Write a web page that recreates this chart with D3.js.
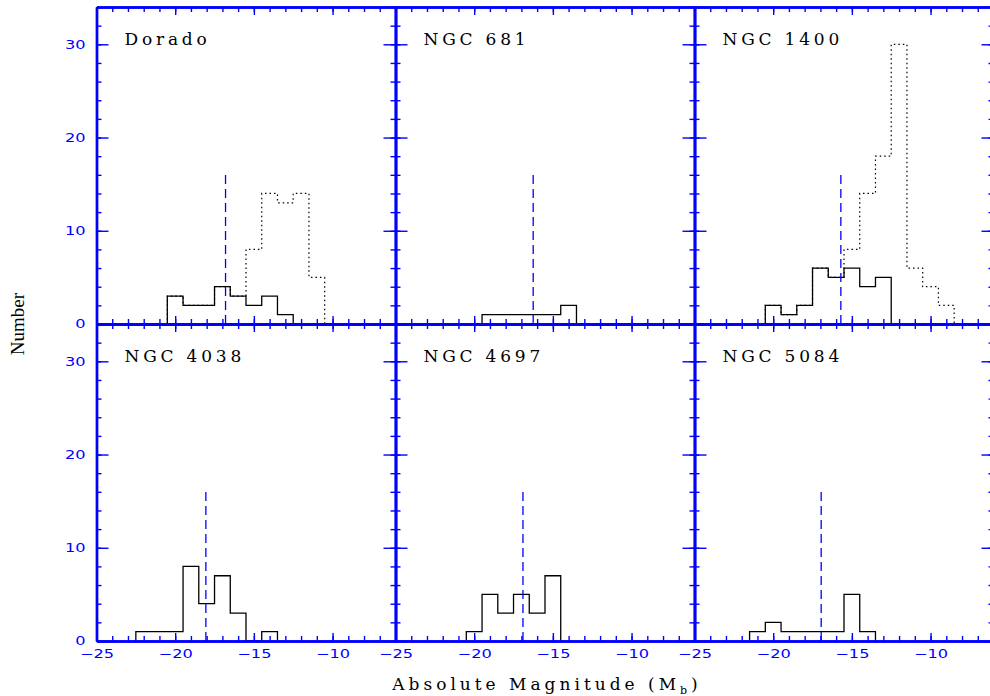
<!DOCTYPE html>
<html>
<head>
<meta charset="utf-8">
<script src="https://cdn.jsdelivr.net/npm/d3@7"></script>
<style>
  html, body { margin: 0; padding: 0; background: #fff; }
  svg { display: block; }
  .tick text { font-family: "DejaVu Sans", sans-serif; font-size: 12px; fill: #0000ff; }
  .panel-name { font-family: "DejaVu Serif", serif; font-size: 17px; fill: #000; letter-spacing: 3.8px; }
  .axis-title { font-family: "DejaVu Serif", serif; font-size: 17px; fill: #000; letter-spacing: 4px; }
  .y-title { font-family: "Liberation Serif", serif; font-size: 19px; fill: #000; }
</style>
</head>
<body>
<svg id="chart" width="990" height="696"></svg>
<script>
// ── Data ──────────────────────────────────────────────────────────────────
const panelNames = ["Dorado", "NGC 681", "NGC 1400", "NGC 4038", "NGC 4697", "NGC 5084"];

// bin centres (1 mag wide bins)
const magBins = [-22, -21, -20, -19, -18, -17, -16, -15, -14, -13, -12, -11, -10, -9];

// solid histograms, one count per bin of magBins
const solidCounts = [
  [0, 0, 3, 2, 2, 4, 3, 2, 3, 1, 0, 0, 0, 0], // Dorado
  [0, 0, 0, 1, 1, 1, 1, 1, 2, 0, 0, 0, 0, 0], // NGC 681
  [0, 0, 2, 1, 2, 6, 5, 6, 4, 5, 0, 0, 0, 0], // NGC 1400
  [1, 1, 1, 8, 4, 7, 3, 0, 1, 0, 0, 0, 0, 0], // NGC 4038
  [0, 0, 1, 5, 3, 5, 3, 7, 0, 0, 0, 0, 0, 0], // NGC 4697
  [0, 1, 2, 1, 1, 1, 1, 5, 1, 0, 0, 0, 0, 0], // NGC 5084
];

// dotted histograms (only Dorado and NGC 1400 have them)
const dottedCounts = [
  [0, 0, 3, 2, 2, 4, 3, 8, 14, 13, 14, 5, 0, 0],
  null,
  [0, 0, 2, 1, 2, 6, 5, 8, 14, 18, 30, 6, 4, 2],
  null,
  null,
  null,
];

// vertical dashed marker (magnitude) and its height
const markerMags = [-16.8, -16.25, -15.7, -18.05, -16.9, -16.95];
const markerHeight = 16;

const magDomain = [-25, -6];
const countDomain = [0, 34];
const magTickLabels = [-25, -20, -15, -10];
const countTickLabels = [0, 10, 20, 30];

// ── Layout ────────────────────────────────────────────────────────────────
const marginLeft = 96.5, marginTop = 7, panelW = 299, panelH = 317;
const blue = "#0000ff";
const labelStretch = 1.35; // tick labels in the plot are wide, stretch them

const svg = d3.select("#chart");

const x = d3.scaleLinear().domain(magDomain).range([0, panelW]);
const y = d3.scaleLinear().domain(countDomain).range([panelH, 0]);

const minorX = d3.range(-25, -5, 1);
const minorY = d3.range(0, 35, 2);

// turn bin counts into a step outline
function stepPoints(counts) {
  let first = counts.findIndex((c) => c > 0);
  let last = counts.length - 1;
  while (last >= 0 && counts[last] === 0) last--;
  const pts = [[magBins[first] - 0.5, 0]];
  for (let i = first; i <= last; i++) {
    pts.push([magBins[i] - 0.5, counts[i]]);
    pts.push([magBins[i] + 0.5, counts[i]]);
  }
  pts.push([magBins[last] + 0.5, 0]);
  return pts;
}

const line = d3.line().x((d) => x(d[0])).y((d) => y(d[1]));

function styleAxis(g) {
  g.select(".domain").attr("stroke", blue).attr("stroke-width", 2.4);
  g.selectAll(".tick line").attr("stroke", blue).attr("stroke-width", 1.4);
}

panelNames.forEach((name, i) => {
  const col = i % 3, row = Math.floor(i / 3);
  const g = svg.append("g")
    .attr("transform", `translate(${marginLeft + col * panelW},${marginTop + row * panelH})`);

  // histograms
  if (dottedCounts[i]) {
    g.append("path")
      .attr("d", line(stepPoints(dottedCounts[i])))
      .attr("fill", "none")
      .attr("stroke", "#000")
      .attr("stroke-width", 1.2)
      .attr("stroke-dasharray", "1.5,3");
  }
  g.append("path")
    .attr("d", line(stepPoints(solidCounts[i])))
    .attr("fill", "none")
    .attr("stroke", "#000")
    .attr("stroke-width", 1.3);

  // dashed marker
  g.append("line")
    .attr("x1", x(markerMags[i])).attr("x2", x(markerMags[i]))
    .attr("y1", y(0)).attr("y2", y(markerHeight))
    .attr("stroke", blue)
    .attr("stroke-width", 1.3)
    .attr("stroke-dasharray", "9,5");

  // minor ticks on all sides
  [
    [d3.axisBottom(x), `translate(0,${panelH})`, minorX],
    [d3.axisTop(x), "translate(0,0)", minorX],
    [d3.axisLeft(y), "translate(0,0)", minorY],
    [d3.axisRight(y), `translate(${panelW},0)`, minorY],
  ].forEach(([ax, tr, vals]) => {
    g.append("g").attr("transform", tr)
      .call(ax.tickValues(vals).tickSize(-5).tickSizeOuter(0).tickFormat(""))
      .call(styleAxis);
  });

  // major ticks, labels only on outer panels
  const bottomAx = d3.axisBottom(x).tickValues(magTickLabels).tickSize(-8).tickSizeOuter(0).tickPadding(8)
    .tickFormat(row === 1 ? d3.format("d") : () => "");
  g.append("g").attr("transform", `translate(0,${panelH})`).call(bottomAx).call(styleAxis)
    .selectAll(".tick text").attr("transform", `scale(${labelStretch},1)`);

  g.append("g")
    .call(d3.axisTop(x).tickValues(magTickLabels).tickSize(-8).tickSizeOuter(0).tickFormat(""))
    .call(styleAxis);

  const leftAx = d3.axisLeft(y).tickValues(countTickLabels).tickSize(-12).tickSizeOuter(0)
    .tickFormat(col === 0 ? d3.format("d") : () => "");
  g.append("g").call(leftAx).call(styleAxis)
    .selectAll(".tick text")
    .attr("x", -11 / labelStretch)
    .attr("transform", `scale(${labelStretch},1)`);

  g.append("g").attr("transform", `translate(${panelW},0)`)
    .call(d3.axisRight(y).tickValues(countTickLabels).tickSize(-12).tickSizeOuter(0).tickFormat(""))
    .call(styleAxis);

  g.selectAll("g").attr("font-family", null).attr("font-size", null);

  // panel name
  g.append("text")
    .attr("class", "panel-name")
    .attr("x", 28)
    .attr("y", 38)
    .text(name);
});

// axis titles
svg.append("text")
  .attr("class", "y-title")
  .attr("transform", `translate(24,${marginTop + panelH}) rotate(-90)`)
  .attr("text-anchor", "middle")
  .text("Number");

const xt = svg.append("text")
  .attr("class", "axis-title")
  .attr("x", 547)
  .attr("y", 690)
  .attr("text-anchor", "middle");
xt.append("tspan").text("Absolute Magnitude (M");
xt.append("tspan").attr("font-size", 11).attr("dy", 4).text("b");
xt.append("tspan").attr("dy", -4).text(")");
</script>
</body>
</html>
